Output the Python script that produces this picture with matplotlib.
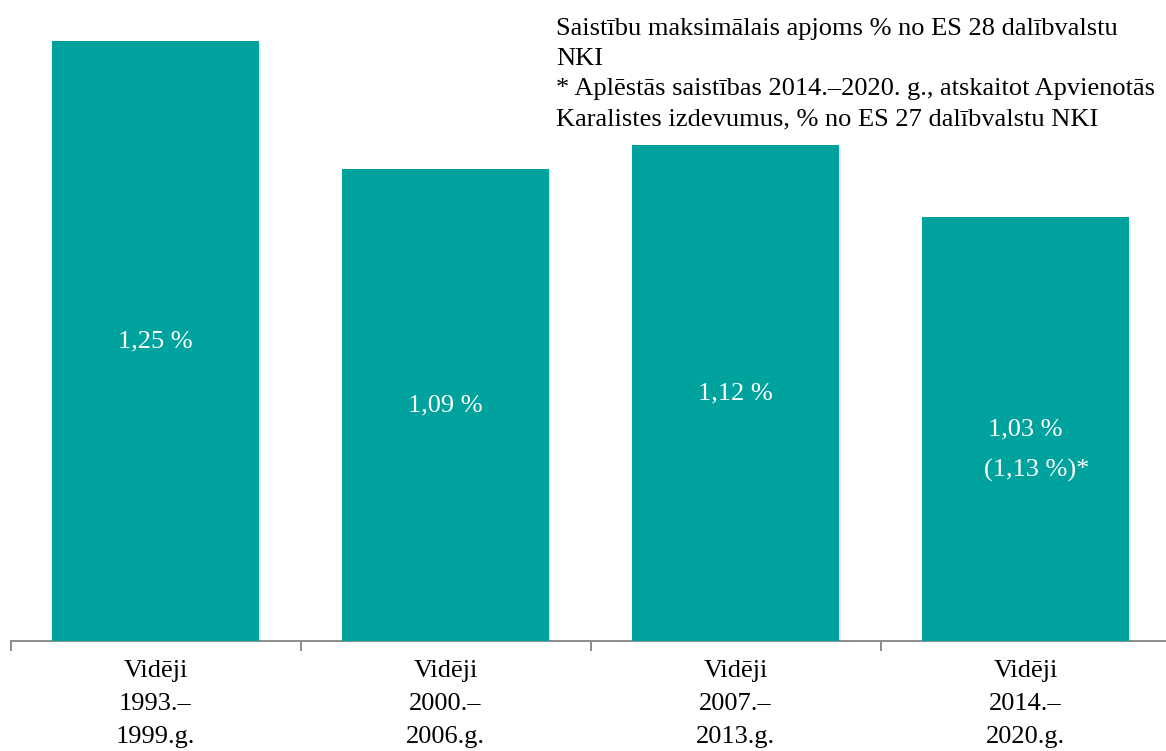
import matplotlib.pyplot as plt
import matplotlib.patheffects as pe

# data
categories = ["Vidēji\n1993.–\n1999.g.", "Vidēji\n2000.–\n2006.g.",
              "Vidēji\n2007.–\n2013.g.", "Vidēji\n2014.–\n2020.g."]
values = [1.25, 1.09, 1.12, 1.03]
bar_labels = ["1,25 %", "1,09 %", "1,12 %", "1,03 %"]
extra_label = "(1,13 %)*"
note_lines = [
    "Saistību maksimālais apjoms % no ES 28 dalībvalstu",
    "NKI",
    "* Aplēstās saistības 2014.–2020. g., atskaitot Apvienotās",
    "Karalistes izdevumus, % no ES 27 dalībvalstu NKI",
]

plt.rcParams["font.family"] = ["Liberation Serif", "DejaVu Serif"]
teal = "#00A29D"
W, H = 1166, 751
fs = 19

fig = plt.figure(figsize=(W / 100, H / 100), dpi=100)
ax = fig.add_axes([10.5 / W, 110 / H, 1160 / W, 640 / H])

x = list(range(len(values)))
base = 0.5
bars = ax.bar(x, [v - base for v in values], bottom=base, width=0.714,
              color=teal, zorder=3)
for b in bars:
    b.set_path_effects([pe.withSimplePatchShadow(offset=(1.5, -1.5), alpha=0.12,
                                                 shadow_rgbFace="#555555"),
                        pe.Normal()])

# labels in the middle of each bar
for i, (v, lab) in enumerate(zip(values, bar_labels)):
    mid = (v + base) / 2
    ax.text(i, mid, lab, ha="center", va="center", color="white",
            fontsize=fs, zorder=4)
ax.text(3 + 0.04, (values[3] + base) / 2 - 0.052, extra_label, ha="center",
        va="center", color="white", fontsize=fs, zorder=4)

ax.set_xlim(-0.5, len(values) - 0.5)
ax.set_ylim(base, 1.3)
ax.set_yticks([])
for s in ["top", "right", "left"]:
    ax.spines[s].set_visible(False)
ax.spines["bottom"].set_color("#8c8c8c")
ax.spines["bottom"].set_linewidth(1.4)

ax.set_xticks(x)
ax.set_xticklabels(categories, fontsize=fs, linespacing=1.66)
ax.set_xticks([i - 0.5 for i in range(len(values) + 1)], minor=True)
ax.tick_params(axis="x", which="major", length=0, pad=13.5)
ax.tick_params(axis="x", which="minor", length=7, width=1.4,
               color="#8c8c8c", direction="out")

fig.text(556 / W, 1 - 18 / H, "\n".join(note_lines), ha="left", va="top",
         fontsize=fs, linespacing=1.48)

fig.savefig("out.png", dpi=100)
